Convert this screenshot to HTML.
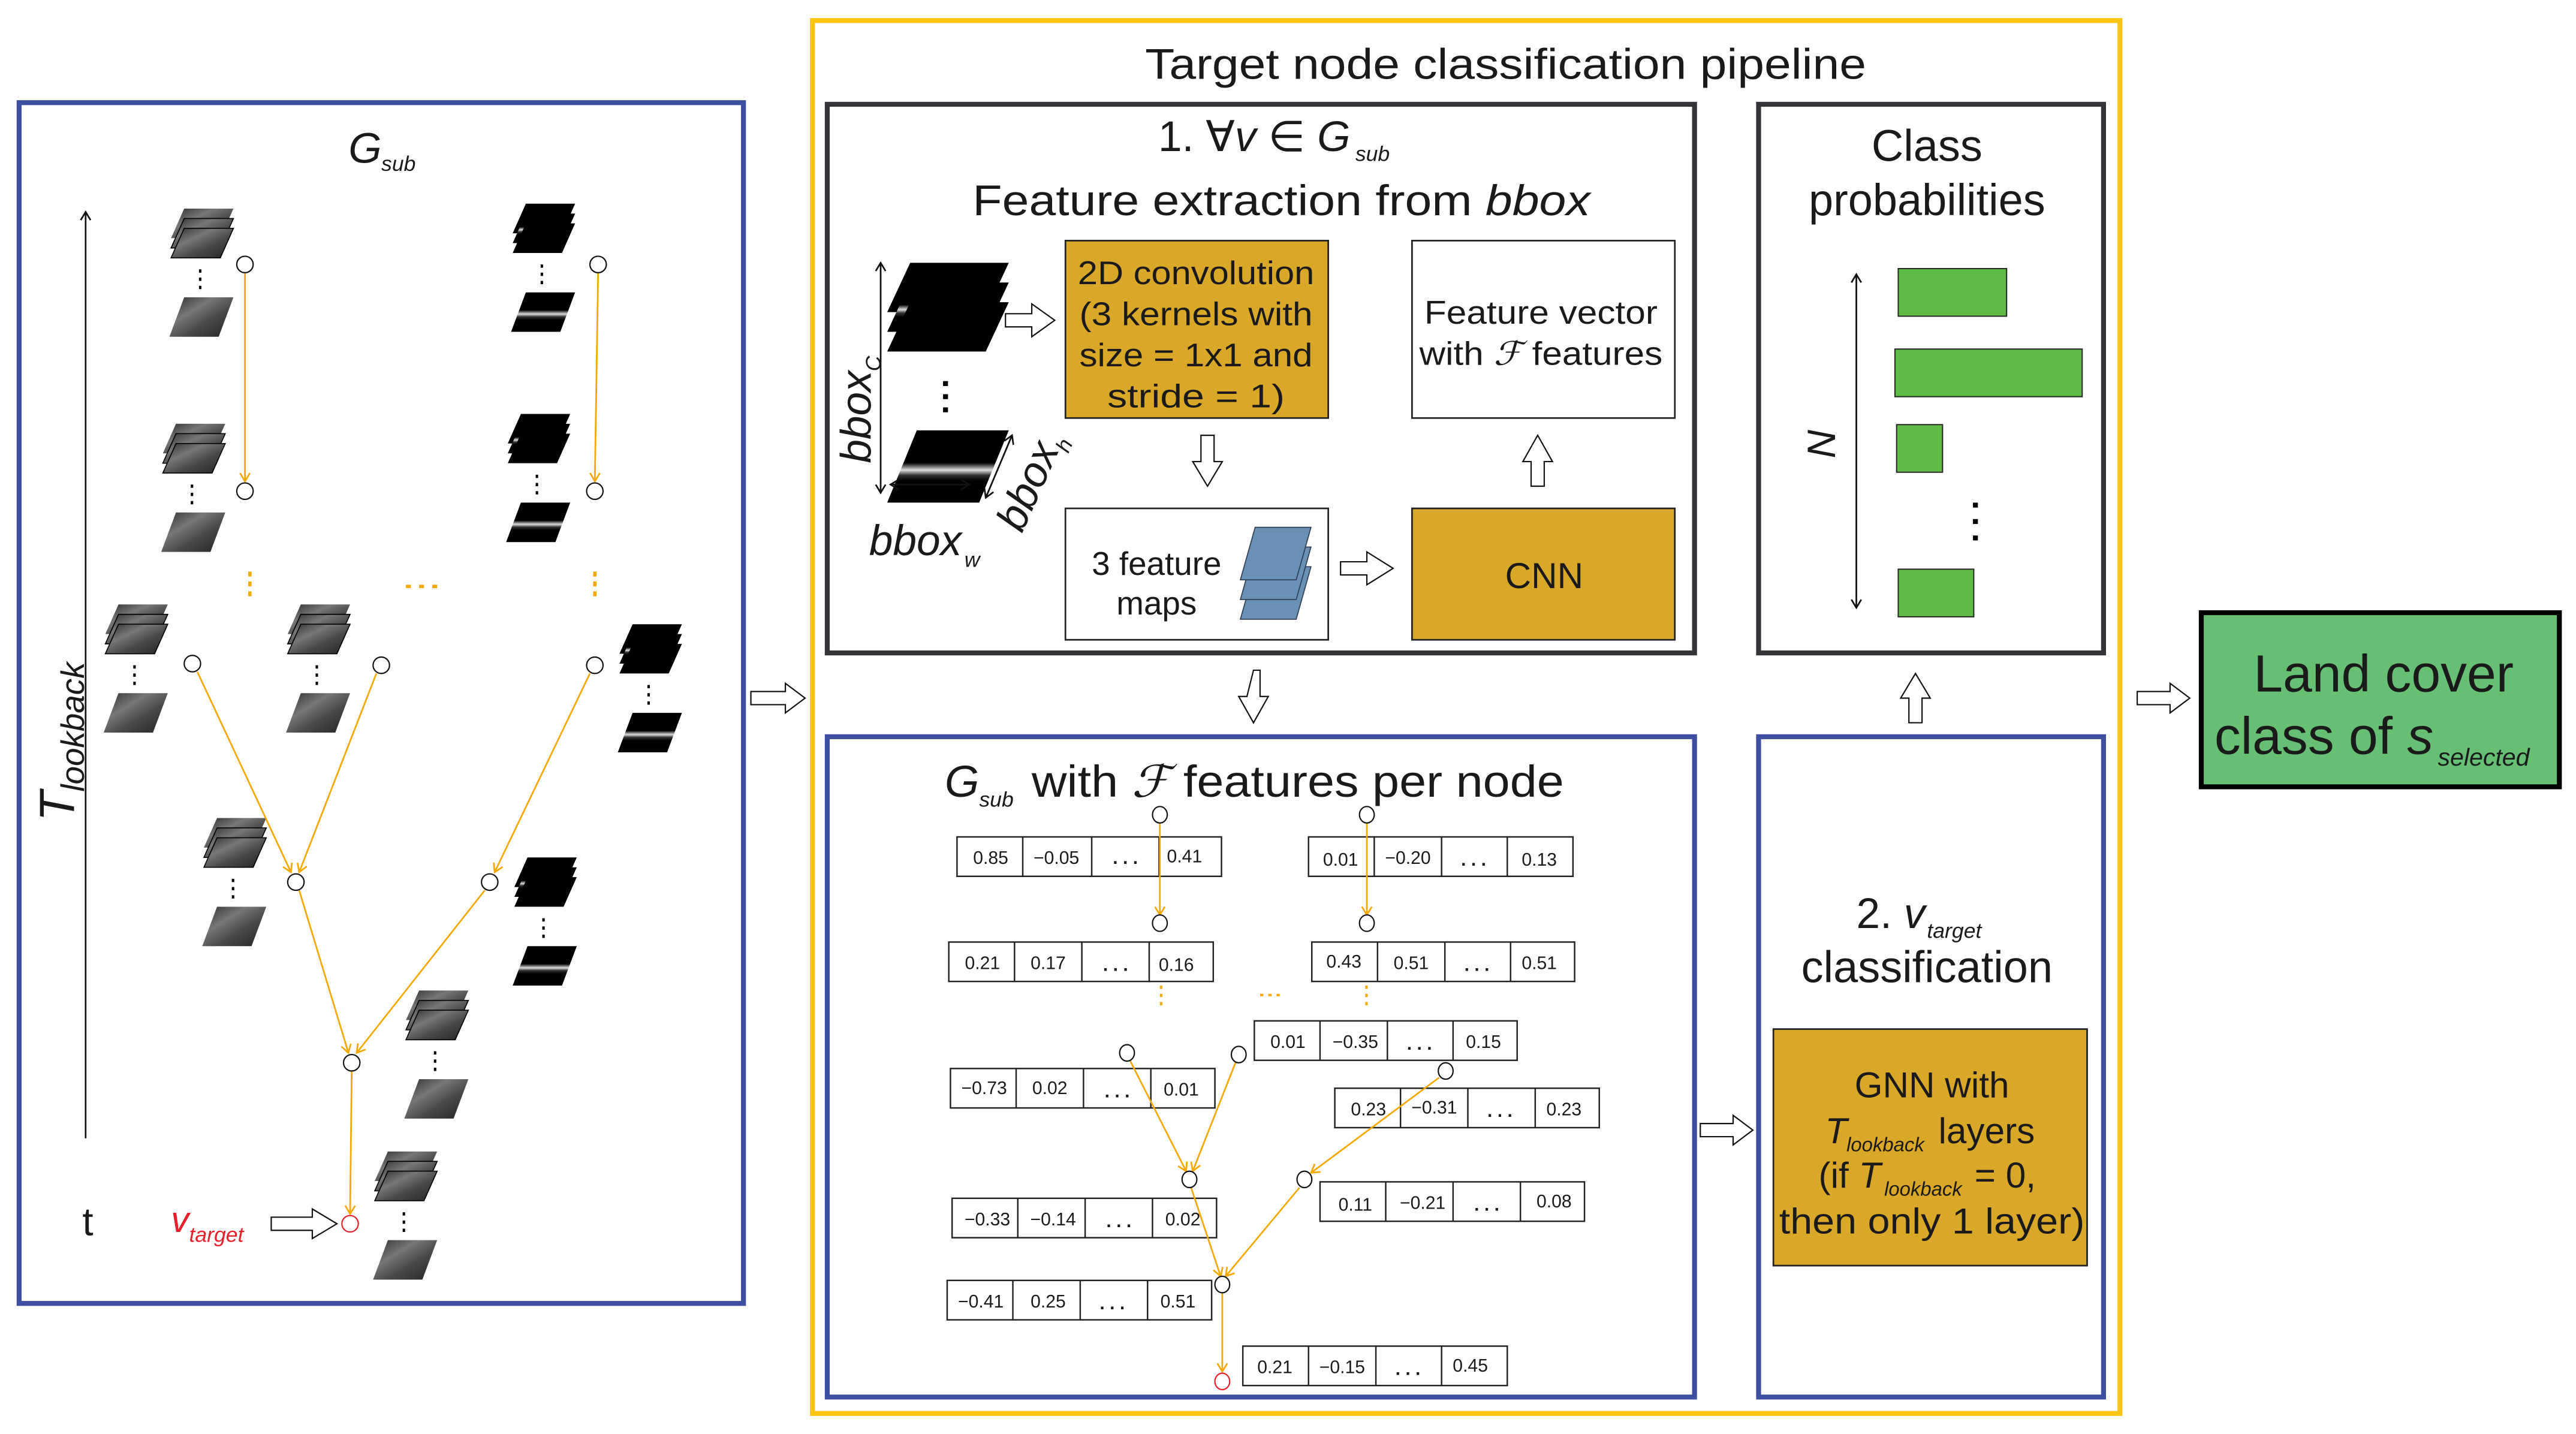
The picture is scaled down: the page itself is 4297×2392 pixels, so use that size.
<!DOCTYPE html>
<html><head><meta charset="utf-8"><style>
html,body{margin:0;padding:0;background:#fff}
svg{display:block}
text{font-family:"Liberation Sans",sans-serif;fill:#1a1a1a}
.c{font-size:11px;text-anchor:middle}
</style></head><body>
<svg width="4297" height="2392" viewBox="0 0 1568 873" xmlns="http://www.w3.org/2000/svg">
<defs>
<linearGradient id="gt" x1="0" y1="0" x2="1" y2="1">
<stop offset="0" stop-color="#2a2a2a"/><stop offset="0.35" stop-color="#777"/><stop offset="0.6" stop-color="#4a4a4a"/><stop offset="1" stop-color="#222"/></linearGradient>
<linearGradient id="bt" x1="0" y1="0" x2="0" y2="1">
<stop offset="0" stop-color="#000"/><stop offset="0.45" stop-color="#000"/><stop offset="0.55" stop-color="#ddd"/><stop offset="0.62" stop-color="#333"/><stop offset="0.7" stop-color="#000"/><stop offset="1" stop-color="#000"/></linearGradient>
<g id="sg">
<polygon points="10,0 40,0 32,18 2,18" fill="url(#gt)"/>
<polygon points="10,6 40,6 32,24 2,24" fill="url(#gt)" stroke="#000" stroke-width="0.6"/>
<polygon points="10,12 40,12 32,30 2,30" fill="url(#gt)" stroke="#000" stroke-width="0.6"/>
<rect x="19" y="37" width="1.5" height="2" fill="#000"/><rect x="19" y="42" width="1.5" height="2" fill="#000"/><rect x="19" y="47" width="1.5" height="2" fill="#000"/>
<polygon points="10,54 40,54 31,78 1,78" fill="url(#gt)"/>
</g>
<g id="sb">
<polygon points="10,0 40,0 32,18 2,18" fill="#000"/>
<polygon points="10,6 40,6 32,24 2,24" fill="url(#bt)"/>
<polygon points="10,12 40,12 32,30 2,30" fill="#000"/>
<rect x="19" y="37" width="1.5" height="2" fill="#000"/><rect x="19" y="42" width="1.5" height="2" fill="#000"/><rect x="19" y="47" width="1.5" height="2" fill="#000"/>
<polygon points="10,54 40,54 31,78 1,78" fill="url(#bt)"/>
</g>
<marker id="oa" markerWidth="8" markerHeight="8" refX="6" refY="4" orient="auto" markerUnits="userSpaceOnUse"><path d="M1,1 L6,4 L1,7" fill="none" stroke="#F5A800" stroke-width="1"/></marker>
<marker id="ka" markerWidth="8" markerHeight="8" refX="6" refY="4" orient="auto" markerUnits="userSpaceOnUse"><path d="M1,1 L6,4 L1,7" fill="none" stroke="#111" stroke-width="1"/></marker>
<marker id="ks" markerWidth="8" markerHeight="8" refX="2" refY="4" orient="auto" markerUnits="userSpaceOnUse"><path d="M7,1 L2,4 L7,7" fill="none" stroke="#111" stroke-width="1"/></marker>
</defs>

<!-- LEFT PANEL -->
<rect x="11.5" y="62.5" width="441" height="731" fill="none" stroke="#3D4FA0" stroke-width="3"/>
<text x="212" y="99" font-size="26" font-style="italic">G</text><text x="232" y="104" font-size="13" font-style="italic">sub</text>
<line x1="52" y1="693" x2="52" y2="129" stroke="#111" stroke-width="1" marker-end="url(#ka)"/>
<g transform="translate(45,500) rotate(-90)"><text x="0" y="0" font-size="30" font-style="italic">T</text><text x="18" y="6" font-size="20" font-style="italic">lookback</text></g>
<text x="50" y="752" font-size="24">t</text>
<text x="104" y="750" font-size="22" font-style="italic" style="fill:#E8202A">v</text><text x="115" y="756" font-size="13" font-style="italic" style="fill:#E8202A">target</text>
<polygon points="165,741 190,741 190,736 205,745 190,754 190,749 165,749" fill="#fff" stroke="#111" stroke-width="0.8"/>

<use href="#sg" x="102" y="127"/><use href="#sg" x="97" y="258"/>
<use href="#sb" x="310" y="124"/><use href="#sb" x="307" y="252"/>
<use href="#sg" x="62" y="368"/><use href="#sg" x="173" y="368"/>
<use href="#sb" x="375" y="380"/><use href="#sg" x="122" y="498"/>
<use href="#sb" x="311" y="522"/><use href="#sg" x="245" y="603"/>
<use href="#sg" x="226" y="701"/>

<g stroke="#F5A800" stroke-width="1" fill="none">
<line x1="149" y1="166" x2="149" y2="293" marker-end="url(#oa)"/>
<line x1="364" y1="166" x2="362" y2="293" marker-end="url(#oa)"/>
<line x1="120" y1="409" x2="177" y2="531" marker-end="url(#oa)"/>
<line x1="229" y1="410" x2="182" y2="531" marker-end="url(#oa)"/>
<line x1="359" y1="410" x2="301" y2="531" marker-end="url(#oa)"/>
<line x1="182" y1="542" x2="212" y2="641" marker-end="url(#oa)"/>
<line x1="295" y1="542" x2="217" y2="641" marker-end="url(#oa)"/>
<line x1="214" y1="652" x2="213" y2="739" marker-end="url(#oa)"/>
</g>
<g fill="#F5A800">
<rect x="151" y="348" width="2" height="3"/><rect x="151" y="354" width="2" height="3"/><rect x="151" y="360" width="2" height="3"/>
<rect x="361" y="348" width="2" height="3"/><rect x="361" y="354" width="2" height="3"/><rect x="361" y="360" width="2" height="3"/>
<rect x="247" y="356" width="3" height="2"/><rect x="255" y="356" width="3" height="2"/><rect x="263" y="356" width="3" height="2"/>
</g>
<g fill="#fff" stroke="#111" stroke-width="0.8">
<ellipse cx="149" cy="161" rx="5" ry="5"/><ellipse cx="149" cy="299" rx="5" ry="5"/>
<ellipse cx="364" cy="161" rx="5" ry="5"/><ellipse cx="362" cy="299" rx="5" ry="5"/>
<ellipse cx="117" cy="404" rx="5" ry="5"/><ellipse cx="232" cy="405" rx="5" ry="5"/><ellipse cx="362" cy="405" rx="5" ry="5"/>
<ellipse cx="180" cy="537" rx="5" ry="5"/><ellipse cx="298" cy="537" rx="5" ry="5"/>
<ellipse cx="214" cy="647" rx="5" ry="5"/>
<ellipse cx="213" cy="745" rx="5" ry="5" stroke="#E8202A"/>
</g>

<polygon points="457,421 478,421 478,416 490,425 478,434 478,429 457,429" fill="#fff" stroke="#111" stroke-width="0.8"/>

<!-- PIPELINE -->
<rect x="494.5" y="12.5" width="796" height="848" fill="none" stroke="#FAC412" stroke-width="3"/>
<text x="697" y="48" font-size="26" textLength="439" lengthAdjust="spacingAndGlyphs">Target node classification pipeline</text>

<!-- box1 -->
<rect x="503.5" y="63.5" width="528" height="334" fill="none" stroke="#333338" stroke-width="3"/>
<text x="705" y="92" font-size="26">1. ∀<tspan font-style="italic">v</tspan> ∈ <tspan font-style="italic">G</tspan></text><text x="825" y="98" font-size="13" font-style="italic">sub</text>
<text x="592" y="131" font-size="26" textLength="376" lengthAdjust="spacingAndGlyphs">Feature extraction from <tspan font-style="italic">bbox</tspan></text>

<polygon points="554,160 614,160 600,190 540,190" fill="#000"/>
<polygon points="554,172 614,172 600,202 540,202" fill="url(#bt)"/>
<polygon points="554,184 614,184 600,214 540,214" fill="#000"/>
<rect x="574" y="232" width="3" height="3"/><rect x="574" y="240" width="3" height="3"/><rect x="574" y="248" width="3" height="3"/>
<polygon points="558,262 614,262 596,306 540,306" fill="url(#bt)"/>
<line x1="536" y1="300" x2="536" y2="160" stroke="#111" stroke-width="1" marker-end="url(#ka)" marker-start="url(#ks)"/>
<line x1="542" y1="295" x2="590" y2="295" stroke="#111" stroke-width="1" marker-end="url(#ka)" marker-start="url(#ks)"/>
<line x1="600" y1="303" x2="616" y2="265" stroke="#111" stroke-width="1" marker-end="url(#ka)" marker-start="url(#ks)"/>
<g transform="translate(530,282) rotate(-90)"><text x="0" y="0" font-size="26" font-style="italic">bbox</text><text x="56" y="6" font-size="13" font-style="italic">C</text></g>
<text x="529" y="338" font-size="26" font-style="italic">bbox</text><text x="587" y="345" font-size="13" font-style="italic">w</text>
<g transform="translate(622,325) rotate(-66)"><text x="0" y="0" font-size="26" font-style="italic">bbox</text><text x="56" y="6" font-size="13" font-style="italic">h</text></g>

<polygon points="612,191 628,191 628,185 642,195 628,205 628,199 612,199" fill="#fff" stroke="#111" stroke-width="0.8"/>
<rect x="648.5" y="146.5" width="160" height="108" fill="#DAA828" stroke="#222" stroke-width="1"/>
<g font-size="20" text-anchor="middle">
<text x="728" y="173" textLength="144" lengthAdjust="spacingAndGlyphs">2D convolution</text>
<text x="728" y="198" textLength="142" lengthAdjust="spacingAndGlyphs">(3 kernels with</text>
<text x="728" y="223" textLength="142" lengthAdjust="spacingAndGlyphs">size = 1x1 and</text>
<text x="728" y="248" textLength="108" lengthAdjust="spacingAndGlyphs">stride = 1)</text>
</g>
<rect x="859.5" y="146.5" width="160" height="108" fill="#fff" stroke="#222" stroke-width="1"/>
<text x="938" y="197" font-size="20" text-anchor="middle" textLength="142" lengthAdjust="spacingAndGlyphs">Feature vector</text>
<text x="938" y="222" font-size="20" text-anchor="middle" textLength="148" lengthAdjust="spacingAndGlyphs">with <tspan font-family="Liberation Serif" font-style="italic">ℱ</tspan> features</text>

<polygon points="731,265 739,265 739,281 744,281 735,296 726,281 731,281" fill="#fff" stroke="#111" stroke-width="0.8"/>
<polygon points="932,296 940,296 940,281 945,281 936,265 927,281 932,281" fill="#fff" stroke="#111" stroke-width="0.8"/>

<rect x="648.5" y="309.5" width="160" height="80" fill="#fff" stroke="#222" stroke-width="1"/>
<text x="704" y="350" font-size="20" text-anchor="middle">3 feature</text>
<text x="704" y="374" font-size="20" text-anchor="middle">maps</text>
<g fill="#6A90B4" stroke="#2b3b50" stroke-width="0.6">
<polygon points="764,345 798,345 789,377 755,377"/>
<polygon points="764,333 798,333 789,365 755,365"/>
<polygon points="764,321 798,321 789,353 755,353"/>
</g>
<polygon points="816,342 832,342 832,336 848,346 832,356 832,350 816,350" fill="#fff" stroke="#111" stroke-width="0.8"/>
<rect x="859.5" y="309.5" width="160" height="80" fill="#DAA828" stroke="#222" stroke-width="1"/>
<text x="940" y="358" font-size="22" text-anchor="middle">CNN</text>

<!-- class probabilities -->
<rect x="1070.5" y="63.5" width="210" height="334" fill="none" stroke="#333338" stroke-width="3"/>
<text x="1173" y="98" font-size="27" text-anchor="middle">Class</text>
<text x="1173" y="131" font-size="27" text-anchor="middle">probabilities</text>
<line x1="1130" y1="370" x2="1130" y2="167" stroke="#111" stroke-width="1" marker-end="url(#ka)" marker-start="url(#ks)"/>
<g transform="translate(1117,279) rotate(-90)"><text x="0" y="0" font-size="24" font-style="italic">N</text></g>
<g fill="#5DBB46" stroke="#222" stroke-width="0.7">
<rect x="1155.5" y="163.5" width="66" height="29"/>
<rect x="1153.5" y="212.5" width="114" height="29"/>
<rect x="1154.5" y="258.5" width="28" height="29"/>
<rect x="1155.5" y="346.5" width="46" height="29"/>
</g>
<rect x="1201" y="306" width="3" height="3"/><rect x="1201" y="316" width="3" height="3"/><rect x="1201" y="326" width="3" height="3"/>

<polygon points="763,408 767,408 767,424 772,424 763,440 754,424 759,424" fill="#fff" stroke="#111" stroke-width="0.8"/>
<polygon points="1162,440 1170,440 1170,425 1175,425 1166,410 1157,425 1162,425" fill="#fff" stroke="#111" stroke-width="0.8"/>

<!-- Gsub features box -->
<rect x="503.5" y="448.5" width="528" height="402" fill="none" stroke="#3D4FA0" stroke-width="3"/>
<text x="575" y="485" font-size="27" font-style="italic">G</text><text x="596" y="491" font-size="13" font-style="italic">sub</text>
<text x="628" y="485" font-size="27" textLength="324" lengthAdjust="spacingAndGlyphs">with <tspan font-family="Liberation Serif" font-style="italic">ℱ</tspan> features per node</text>

<g id="tables" stroke="#222" stroke-width="0.9" fill="#fff">
<rect x="582.5" y="509.5" width="161" height="24"/><line x1="622.5" y1="509.5" x2="622.5" y2="533.5"/><line x1="664.5" y1="509.5" x2="664.5" y2="533.5"/><line x1="705.5" y1="509.5" x2="705.5" y2="533.5"/>
<rect x="796.5" y="509.5" width="161" height="24"/><line x1="836.5" y1="509.5" x2="836.5" y2="533.5"/><line x1="877.5" y1="509.5" x2="877.5" y2="533.5"/><line x1="917.5" y1="509.5" x2="917.5" y2="533.5"/>
<rect x="577.5" y="573.5" width="161" height="24"/><line x1="617.5" y1="573.5" x2="617.5" y2="597.5"/><line x1="658.5" y1="573.5" x2="658.5" y2="597.5"/><line x1="699.5" y1="573.5" x2="699.5" y2="597.5"/>
<rect x="798.5" y="573.5" width="160" height="24"/><line x1="838.5" y1="573.5" x2="838.5" y2="597.5"/><line x1="879.5" y1="573.5" x2="879.5" y2="597.5"/><line x1="919.5" y1="573.5" x2="919.5" y2="597.5"/>
<rect x="763.5" y="621.5" width="160" height="24"/><line x1="803.5" y1="621.5" x2="803.5" y2="645.5"/><line x1="844.5" y1="621.5" x2="844.5" y2="645.5"/><line x1="884.5" y1="621.5" x2="884.5" y2="645.5"/>
<rect x="578.5" y="650.5" width="161" height="24"/><line x1="618.5" y1="650.5" x2="618.5" y2="674.5"/><line x1="659.5" y1="650.5" x2="659.5" y2="674.5"/><line x1="700.5" y1="650.5" x2="700.5" y2="674.5"/>
<rect x="812.5" y="662.5" width="161" height="24"/><line x1="852.5" y1="662.5" x2="852.5" y2="686.5"/><line x1="893.5" y1="662.5" x2="893.5" y2="686.5"/><line x1="934.5" y1="662.5" x2="934.5" y2="686.5"/>
<rect x="803.5" y="719.5" width="161" height="24"/><line x1="843.5" y1="719.5" x2="843.5" y2="743.5"/><line x1="884.5" y1="719.5" x2="884.5" y2="743.5"/><line x1="925.5" y1="719.5" x2="925.5" y2="743.5"/>
<rect x="579.5" y="729.5" width="161" height="24"/><line x1="619.5" y1="729.5" x2="619.5" y2="753.5"/><line x1="660.5" y1="729.5" x2="660.5" y2="753.5"/><line x1="701.5" y1="729.5" x2="701.5" y2="753.5"/>
<rect x="576.5" y="779.5" width="161" height="24"/><line x1="616.5" y1="779.5" x2="616.5" y2="803.5"/><line x1="657.5" y1="779.5" x2="657.5" y2="803.5"/><line x1="698.5" y1="779.5" x2="698.5" y2="803.5"/>
<rect x="756.5" y="819.5" width="161" height="24"/><line x1="796.5" y1="819.5" x2="796.5" y2="843.5"/><line x1="837.5" y1="819.5" x2="837.5" y2="843.5"/><line x1="877.5" y1="819.5" x2="877.5" y2="843.5"/>
</g>
<g class="c">
<text class="c" x="603" y="526">0.85</text><text class="c" x="643" y="526">−0.05</text><text class="c" x="685" y="526" font-weight="bold">. . .</text><text class="c" x="721" y="525">0.41</text>
<text class="c" x="816" y="527">0.01</text><text class="c" x="857" y="526">−0.20</text><text class="c" x="897" y="527" font-weight="bold">. . .</text><text class="c" x="937" y="527">0.13</text>
<text class="c" x="598" y="590">0.21</text><text class="c" x="638" y="590">0.17</text><text class="c" x="679" y="591" font-weight="bold">. . .</text><text class="c" x="716" y="591">0.16</text>
<text class="c" x="818" y="589">0.43</text><text class="c" x="859" y="590">0.51</text><text class="c" x="899" y="591" font-weight="bold">. . .</text><text class="c" x="937" y="590">0.51</text>
<text class="c" x="784" y="638">0.01</text><text class="c" x="825" y="638">−0.35</text><text class="c" x="864" y="639" font-weight="bold">. . .</text><text class="c" x="903" y="638">0.15</text>
<text class="c" x="599" y="666">−0.73</text><text class="c" x="639" y="666">0.02</text><text class="c" x="680" y="668" font-weight="bold">. . .</text><text class="c" x="719" y="667">0.01</text>
<text class="c" x="833" y="679">0.23</text><text class="c" x="873" y="678">−0.31</text><text class="c" x="913" y="680" font-weight="bold">. . .</text><text class="c" x="952" y="679">0.23</text>
<text class="c" x="825" y="737">0.11</text><text class="c" x="866" y="736">−0.21</text><text class="c" x="905" y="737" font-weight="bold">. . .</text><text class="c" x="946" y="735">0.08</text>
<text class="c" x="601" y="746">−0.33</text><text class="c" x="641" y="746">−0.14</text><text class="c" x="681" y="747" font-weight="bold">. . .</text><text class="c" x="720" y="746">0.02</text>
<text class="c" x="597" y="796">−0.41</text><text class="c" x="638" y="796">0.25</text><text class="c" x="677" y="797" font-weight="bold">. . .</text><text class="c" x="717" y="796">0.51</text>
<text class="c" x="776" y="836">0.21</text><text class="c" x="817" y="836">−0.15</text><text class="c" x="857" y="837" font-weight="bold">. . .</text><text class="c" x="895" y="835">0.45</text>
</g>
<g stroke="#F5A800" stroke-width="1" fill="none">
<line x1="706" y1="501" x2="706" y2="557" marker-end="url(#oa)"/>
<line x1="832" y1="501" x2="832" y2="557" marker-end="url(#oa)"/>
<line x1="688" y1="646" x2="722" y2="713" marker-end="url(#oa)"/>
<line x1="752" y1="647" x2="726" y2="713" marker-end="url(#oa)"/>
<line x1="876" y1="656" x2="798" y2="714" marker-end="url(#oa)"/>
<line x1="725" y1="723" x2="743" y2="777" marker-end="url(#oa)"/>
<line x1="791" y1="723" x2="746" y2="777" marker-end="url(#oa)"/>
<line x1="744" y1="787" x2="744" y2="835" marker-end="url(#oa)"/>
</g>
<g fill="#F5A800">
<rect x="706" y="600" width="1.5" height="2"/><rect x="706" y="605" width="1.5" height="2"/><rect x="706" y="610" width="1.5" height="2"/>
<rect x="831" y="600" width="1.5" height="2"/><rect x="831" y="605" width="1.5" height="2"/><rect x="831" y="610" width="1.5" height="2"/>
<rect x="767" y="605" width="2" height="1.5"/><rect x="772" y="605" width="2" height="1.5"/><rect x="777" y="605" width="2" height="1.5"/>
</g>
<g fill="#fff" stroke="#111" stroke-width="0.8">
<ellipse cx="706" cy="496" rx="4.5" ry="5"/><ellipse cx="832" cy="496" rx="4.5" ry="5"/>
<ellipse cx="706" cy="562" rx="4.5" ry="5"/><ellipse cx="832" cy="562" rx="4.5" ry="5"/>
<ellipse cx="686" cy="641" rx="4.5" ry="5"/><ellipse cx="754" cy="642" rx="4.5" ry="5"/>
<ellipse cx="880" cy="652" rx="4.5" ry="5"/>
<ellipse cx="724" cy="718" rx="4.5" ry="5"/><ellipse cx="794" cy="718" rx="4.5" ry="5"/>
<ellipse cx="744" cy="782" rx="4.5" ry="5"/>
<ellipse cx="744" cy="841" rx="4.5" ry="5" stroke="#E8202A"/>
</g>

<polygon points="1035,684 1055,684 1055,679 1067,688 1055,697 1055,692 1035,692" fill="#fff" stroke="#111" stroke-width="0.8"/>

<!-- vtarget classification -->
<rect x="1070.5" y="448.5" width="210" height="402" fill="none" stroke="#3D4FA0" stroke-width="3"/>
<text x="1130" y="565" font-size="26">2. <tspan font-style="italic">v</tspan></text><text x="1173" y="571" font-size="13" font-style="italic">target</text>
<text x="1173" y="598" font-size="27" text-anchor="middle">classification</text>
<rect x="1079.5" y="626.5" width="191" height="144" fill="#DAA828" stroke="#222" stroke-width="1"/>
<g font-size="22">
<text x="1176" y="668" text-anchor="middle">GNN with</text>
<text x="1111" y="696" font-style="italic">T</text><text x="1124" y="701" font-size="12" font-style="italic">lookback</text><text x="1180" y="696">layers</text>
<text x="1107" y="723">(if <tspan font-style="italic">T</tspan></text><text x="1147" y="728" font-size="12" font-style="italic">lookback</text><text x="1202" y="723">= 0,</text>
<text x="1176" y="751" text-anchor="middle" textLength="186" lengthAdjust="spacingAndGlyphs">then only 1 layer)</text>
</g>

<polygon points="1301,421 1321,421 1321,416 1333,425 1321,434 1321,429 1301,429" fill="#fff" stroke="#111" stroke-width="0.8"/>

<!-- Land cover -->
<rect x="1340" y="373" width="218" height="106" fill="#66BF72" stroke="#000" stroke-width="3"/>
<text x="1451" y="421" font-size="32" text-anchor="middle">Land cover</text>
<text x="1348" y="459" font-size="32">class of <tspan font-style="italic">s</tspan></text><text x="1484" y="466" font-size="15" font-style="italic">selected</text>
</svg>
</body></html>
